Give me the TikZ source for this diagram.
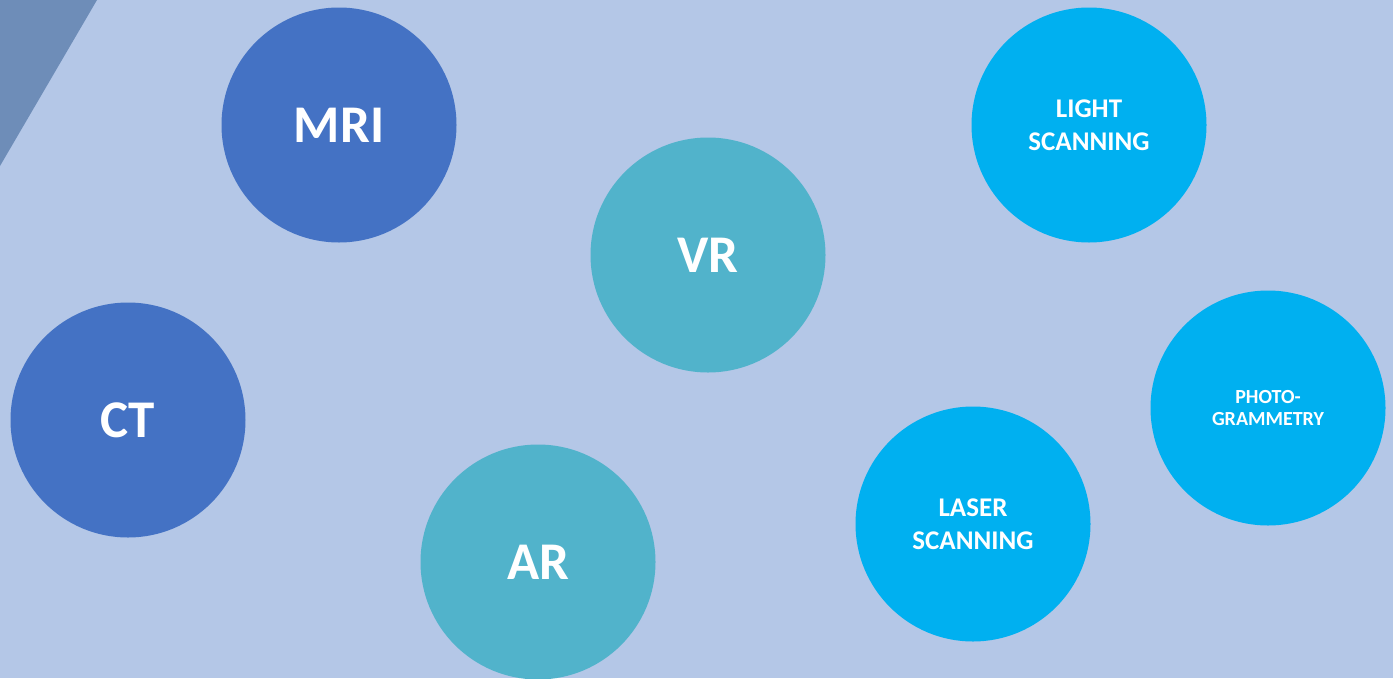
\documentclass[tikz,border=0pt]{standalone}
\usepackage{fontspec}
\setmainfont{Carlito}
\definecolor{bgblue}{HTML}{B4C7E7}
\definecolor{cornerblue}{HTML}{6E8DB8}
\definecolor{scanblue}{HTML}{4472C4}
\definecolor{vrteal}{HTML}{51B3CB}
\definecolor{skyblue}{HTML}{00B0F0}
\tikzset{
	blob/.style={circle,minimum size=235pt,inner sep=0pt,text=white,font=\bfseries,align=center},
	big/.style={font=\fontsize{53}{60}\selectfont\bfseries},
	mid/.style={font=\fontsize{27}{33}\selectfont\bfseries},
	small/.style={font=\fontsize{20}{22}\selectfont\bfseries}
}
\begin{document}
\begin{tikzpicture}[x=1pt,y=-1pt]
	%% background
	\fill[bgblue] (0,0) rectangle (1393,678);
	\useasboundingbox (0,0) rectangle (1393,678);
	\fill[cornerblue] (0,0) -- (97,0) -- (0,166) -- cycle;
	%% imaging
	\node[blob,big,fill=scanblue] (mri) at (339,125) {MRI};
	\node[blob,big,fill=scanblue] (ct) at (128,420) {CT};
	%% virtual and augmented reality
	\node[blob,big,fill=vrteal] (vr) at (708,255) {VR};
	\node[blob,big,fill=vrteal] (ar) at (538,562) {AR};
	%% scanning
	\node[blob,mid,fill=skyblue] (light) at (1089,125) {LIGHT\\SCANNING};
	\node[blob,small,fill=skyblue] (photo) at (1268,408) {PHOTO-\\GRAMMETRY};
	\node[blob,mid,fill=skyblue] (laser) at (973,524) {LASER\\SCANNING};
\end{tikzpicture}
\end{document}
